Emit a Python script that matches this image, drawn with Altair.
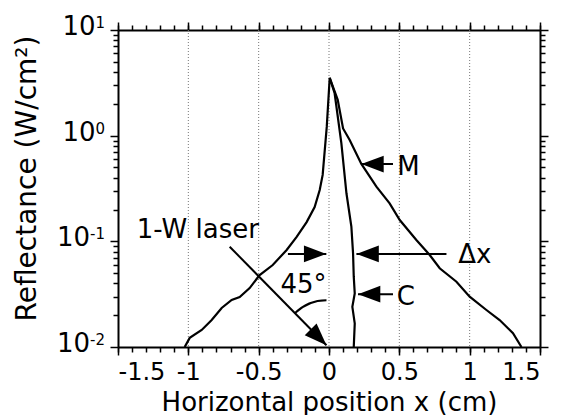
import altair as alt
import pandas as pd

FONT = "DejaVu Sans"

# ---- curve M (wide profile) ----
m_x = [-1.026, -0.990, -0.905, -0.834, -0.763, -0.692, -0.635, -0.564, -0.493, -0.400,
       -0.301, -0.230, -0.159, -0.102, -0.066, -0.045, -0.016, 0.005,
       0.062, 0.100, 0.147, 0.230, 0.337, 0.431, 0.503, 0.621, 0.716, 0.787, 0.906,
       1.000, 1.119, 1.213, 1.308, 1.368]
m_y = [0.0100, 0.0122, 0.0145, 0.0180, 0.0234, 0.0279, 0.0297, 0.0361, 0.0480, 0.0597,
       0.0828, 0.110, 0.152, 0.211, 0.306, 0.425, 1.21, 3.52,
       2.18, 1.17, 0.91, 0.54, 0.329, 0.229, 0.159, 0.103, 0.0743, 0.0556, 0.0415,
       0.0299, 0.0224, 0.0180, 0.0135, 0.0100]

# ---- curve C (narrow profile) ----
c_x = [0.005, 0.040, 0.088, 0.124, 0.159, 0.171, 0.176, 0.183, 0.166, 0.183, 0.176]
c_y = [3.52, 2.52, 0.847, 0.285, 0.138, 0.077, 0.0463, 0.0322, 0.024, 0.0167, 0.0100]

# ---- axes ----
x_major = [-1.5, -1.0, -0.5, 0.0, 0.5, 1.0, 1.5]
x_minor = [-1.5, -1.4, -1.3, -1.2, -1.1, -1.0, -0.9, -0.8, -0.7, -0.6, -0.5, -0.4, -0.3,
           -0.2, -0.1, 0.0, 0.1, 0.2, 0.3, 0.4, 0.5, 0.6, 0.7, 0.8, 0.9, 1.0, 1.1, 1.2,
           1.3, 1.4, 1.5]
x_grid = [-1.0, -0.5, 0.0, 0.5, 1.0]
y_major = [0.01, 0.1, 1, 10]
y_exp = ["-2", "-1", "0", "1"]
y_minor = [0.02, 0.03, 0.04, 0.05, 0.06, 0.07, 0.08, 0.09,
           0.2, 0.3, 0.4, 0.5, 0.6, 0.7, 0.8, 0.9,
           2, 3, 4, 5, 6, 7, 8, 9]

# ---- annotations ----
ann_text = ["1-W laser", "45°", "Δx", "M", "C"]
ann_x = [-1.367, -0.345, 0.918, 0.485, 0.481]
ann_y = [0.1076, 0.0324, 0.0619, 0.4246, 0.025]

arrow_x0 = [-0.706, -0.292, 0.835, 0.455, 0.455]
arrow_y0 = [0.0889, 0.076, 0.076, 0.539, 0.0316]
arrow_x1 = [-0.018, -0.019, 0.195, 0.230, 0.206]
arrow_y1 = [0.0104, 0.076, 0.076, 0.539, 0.0316]
arrow_dir = [135, 90, 270, 270, 270]

arc_x = [-0.018]
arc_y = [0.0104]

m_df = pd.DataFrame({"x": m_x, "y": m_y, "i": list(range(len(m_x)))})
c_df = pd.DataFrame({"x": c_x, "y": c_y, "i": list(range(len(c_x)))})
grid_df = pd.DataFrame({"x": x_grid})
ylab_df = pd.DataFrame({"y": y_major, "e": y_exp})
ann_df = pd.DataFrame({"x": ann_x, "y": ann_y, "t": ann_text})
arr_df = pd.DataFrame({"x0": arrow_x0, "y0": arrow_y0, "x1": arrow_x1,
                       "y1": arrow_y1, "a": arrow_dir})
arc_df = pd.DataFrame({"x": arc_x, "y": arc_y})

xs = alt.Scale(domain=[-1.5, 1.5], nice=False, zero=False)
ys = alt.Scale(type="log", domain=[0.01, 10], nice=False)


def ax(orient, values, size, domain, **kw):
    return alt.Axis(orient=orient, values=values, tickSize=size, domain=domain,
                    grid=False, ticks=True, tickColor="black", tickWidth=1.5,
                    domainColor="black", domainWidth=2, **kw)


bottom_major = ax("bottom", x_major, 8, True, labels=True, labelFontSize=24,
                  labelPadding=5, labelFont=FONT, labelColor="black",
                  labelExpr="replace(format(datum.value, '~g'), '\u2212', '-')",
                  title="Horizontal position x (cm)", titleFont=FONT, titleFontSize=26,
                  titleFontWeight="normal", titleColor="black", titleY=63,
                  titleBaseline="alphabetic")
left_major = ax("left", y_major, 8, True, labels=False,
                title="Reflectance (W/cm²)", titleFont=FONT, titleFontSize=28,
                titleFontWeight="normal", titleColor="black", titleX=-83, titleY=148,
                titleBaseline="alphabetic", titleAlign="center", titleAngle=270)
bottom_minor = ax("bottom", x_minor, 5, False, labels=False, title=None)
left_minor = ax("left", y_minor, 5, False, labels=False, title=None)
top_major = ax("top", x_major, 8, True, labels=False, title=None)
right_major = ax("right", y_major, 8, True, labels=False, title=None)
top_minor = ax("top", x_minor, 5, False, labels=False, title=None)
right_minor = ax("right", y_minor, 5, False, labels=False, title=None)

grid = alt.Chart(grid_df).mark_rule(color="#777777", strokeDash=[1, 2], strokeWidth=1).encode(
    x=alt.X("x:Q", scale=xs, axis=None))

m_line = alt.Chart(m_df).mark_line(color="black", strokeWidth=2.2).encode(
    x=alt.X("x:Q", scale=xs, axis=bottom_major),
    y=alt.Y("y:Q", scale=ys, axis=left_major),
    order="i:Q")

c_line = alt.Chart(c_df).mark_line(color="black", strokeWidth=2.2).encode(
    x=alt.X("x:Q", scale=xs, axis=bottom_minor),
    y=alt.Y("y:Q", scale=ys, axis=left_minor),
    order="i:Q")

carrier1 = alt.Chart(m_df).mark_point(opacity=0).encode(
    x=alt.X("x:Q", scale=xs, axis=top_major),
    y=alt.Y("y:Q", scale=ys, axis=right_major))
carrier2 = alt.Chart(m_df).mark_point(opacity=0).encode(
    x=alt.X("x:Q", scale=xs, axis=top_minor),
    y=alt.Y("y:Q", scale=ys, axis=right_minor))

shafts = alt.Chart(arr_df).mark_rule(color="black", strokeWidth=2).encode(
    x=alt.X("x0:Q", scale=xs, axis=None), y=alt.Y("y0:Q", scale=ys, axis=None),
    x2="x1:Q", y2="y1:Q")

ARROW = "M0,0L-0.75,2L0.75,2Z"
heads = alt.Chart(arr_df).mark_point(shape=ARROW, size=500, filled=True, color="black",
                                     opacity=1, strokeWidth=0).encode(
    x=alt.X("x1:Q", scale=xs, axis=None), y=alt.Y("y1:Q", scale=ys, axis=None),
    angle=alt.Angle("a:Q", scale=None))

arc = alt.Chart(arc_df).mark_arc(theta=5.4978, theta2=6.2832, radius=45, radius2=45,
                                 stroke="black", strokeWidth=2, fillOpacity=0).encode(
    x=alt.X("x:Q", scale=xs, axis=None), y=alt.Y("y:Q", scale=ys, axis=None))

ann = alt.Chart(ann_df).mark_text(align="left", baseline="alphabetic", font=FONT,
                                  fontSize=26, color="black").encode(
    x=alt.X("x:Q", scale=xs, axis=None), y=alt.Y("y:Q", scale=ys, axis=None),
    text="t:N")

exp_layer = alt.Chart(ylab_df).mark_text(align="right", baseline="alphabetic", dx=-13, dy=-2,
                                         font=FONT, fontSize=15, color="black").encode(
    x=alt.value(0), y=alt.Y("y:Q", scale=ys, axis=None), text="e:N")
ten1 = alt.Chart(ylab_df).transform_filter("length(datum.e) == 1").mark_text(
    align="right", baseline="alphabetic", dx=-22.5, dy=5, font=FONT, fontSize=26,
    color="black", text="10").encode(
    x=alt.value(0), y=alt.Y("y:Q", scale=ys, axis=None))
ten2 = alt.Chart(ylab_df).transform_filter("length(datum.e) == 2").mark_text(
    align="right", baseline="alphabetic", dx=-28, dy=5, font=FONT, fontSize=26,
    color="black", text="10").encode(
    x=alt.value(0), y=alt.Y("y:Q", scale=ys, axis=None))

chart = alt.layer(
    grid, m_line, c_line, carrier1, carrier2, shafts, heads, arc, ann, exp_layer, ten1, ten2
).resolve_axis(x="independent", y="independent").properties(
    width=422, height=317,
    padding={"left": 110, "top": 22, "right": 13, "bottom": 68},
    autosize=alt.AutoSizeParams(type="none"),
    background="white",
).configure_view(strokeWidth=0)

chart.save("out.html", embed_options={"renderer": "svg", "actions": False})
